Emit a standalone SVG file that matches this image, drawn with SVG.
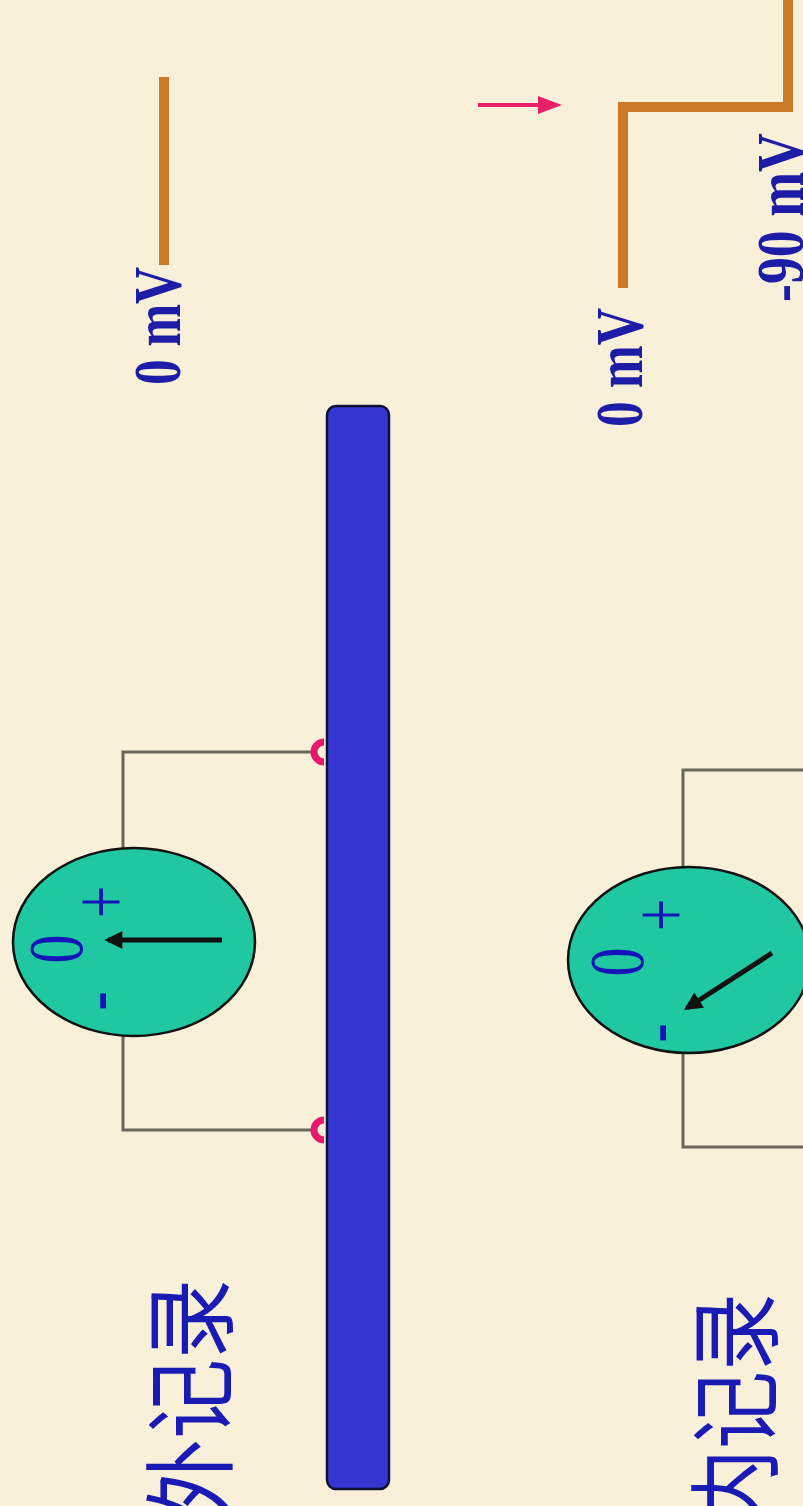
<svg xmlns="http://www.w3.org/2000/svg" width="803" height="1506" viewBox="0 0 803 1506">
  <defs>
    <style>
      .label { font-family: "Liberation Serif", "Times New Roman", serif; font-weight: bold; fill: #1c1ca6; }
      .dial { font-family: "Liberation Serif", "Times New Roman", serif; fill: #1414b8; }
      .title { font-family: "Liberation Sans", "Noto Sans CJK SC", sans-serif; fill: #1a1ab4; }
      .wire { fill: none; stroke: #6a665a; stroke-width: 3; }
      .trace { fill: none; stroke: #cc7a28; stroke-width: 10; stroke-linejoin: miter; }
      .electrode { fill: none; stroke: #e8186a; stroke-width: 7; }
      .meter { fill: #1fc8a0; stroke: #111111; stroke-width: 2.5; }
      .needle { stroke: #111111; stroke-width: 5; marker-end: url(#needleHead); }
    </style>
    <marker id="needleHead" viewBox="0 0 10 10" refX="8" refY="5" markerWidth="4.5" markerHeight="3.6" orient="auto" markerUnits="strokeWidth">
      <path d="M0,0 L10,5 L0,10 z" fill="#111111"/>
    </marker>
  </defs>

  <!-- paper background -->
  <rect x="0" y="0" width="803" height="1506" fill="#f9f0da"/>

  <!-- nerve fibre -->
  <g id="fibre">
    <rect x="327" y="406" width="62" height="1083" rx="9" ry="9" fill="#3535d2" stroke="#101030" stroke-width="2.5"/>
  </g>

  <!-- circuit wiring -->
  <g id="connectors">
    <path class="wire" d="M312 752 H123 V850"/>
    <path class="wire" d="M123 1035 V1130 H312"/>
    <path class="wire" d="M803 770 H683 V870"/>
    <path class="wire" d="M683 1050 V1147 H803"/>
  </g>

  <!-- extracellular electrodes on the fibre surface -->
  <g id="electrode-a">
    <path class="electrode" d="M324 742 A10 10 0 0 0 324 762"/>
  </g>
  <g id="electrode-b">
    <path class="electrode" d="M324 1120 A10 10 0 0 0 324 1140"/>
  </g>

  <!-- external recording meter -->
  <g id="meter-external">
    <ellipse class="meter" cx="134" cy="942" rx="121" ry="94"/>
    <text class="dial" font-size="78" text-anchor="middle" transform="translate(127 902) rotate(-90) scale(0.74 1)">+</text>
    <text class="dial" font-size="78" text-anchor="middle" transform="translate(82 949) rotate(-90) scale(0.74 1)">0</text>
    <text class="dial" font-size="78" text-anchor="middle" transform="translate(122 1001) rotate(-90) scale(0.74 1)">-</text>
    <line class="needle" x1="222" y1="940" x2="108" y2="940"/>
  </g>

  <!-- internal recording meter -->
  <g id="meter-internal">
    <ellipse class="meter" cx="689" cy="960" rx="121" ry="93"/>
    <text class="dial" font-size="78" text-anchor="middle" transform="translate(687 915) rotate(-90) scale(0.74 1)">+</text>
    <text class="dial" font-size="78" text-anchor="middle" transform="translate(643 962) rotate(-90) scale(0.74 1)">0</text>
    <text class="dial" font-size="78" text-anchor="middle" transform="translate(682 1033) rotate(-90) scale(0.74 1)">-</text>
    <line class="needle" x1="772" y1="953" x2="687" y2="1008"/>
  </g>

  <!-- potential traces -->
  <g id="trace-external">
    <line class="trace" x1="164" y1="77" x2="164" y2="265"/>
    <text class="label" font-size="67" textLength="118" lengthAdjust="spacingAndGlyphs" transform="translate(180 385) rotate(-90)">0 mV</text>
  </g>

  <g id="trace-internal">
    <polyline class="trace" points="623,288 623,107 788,107 788,-5"/>
    <text class="label" font-size="68" textLength="119" lengthAdjust="spacingAndGlyphs" transform="translate(642 427) rotate(-90)">0 mV</text>
    <text class="label" font-size="68" textLength="169" lengthAdjust="spacingAndGlyphs" transform="translate(803 302) rotate(-90)">-90 mV</text>
  </g>

  <!-- moment of penetration -->
  <g id="penetration-arrow">
    <line x1="478" y1="105" x2="542" y2="105" stroke="#e8206a" stroke-width="4"/>
    <polygon points="538,96 562,105 538,114" fill="#e8206a"/>
  </g>

  <!-- headings -->
  <g id="title-external">
    <text class="title" font-size="93" text-anchor="end" textLength="240" lengthAdjust="spacingAndGlyphs" transform="translate(225 1279) rotate(-90)">外记录</text>
  </g>
  <g id="title-internal">
    <text class="title" font-size="93" text-anchor="end" textLength="234" lengthAdjust="spacingAndGlyphs" transform="translate(770 1293) rotate(-90)">内记录</text>
  </g>
</svg>
